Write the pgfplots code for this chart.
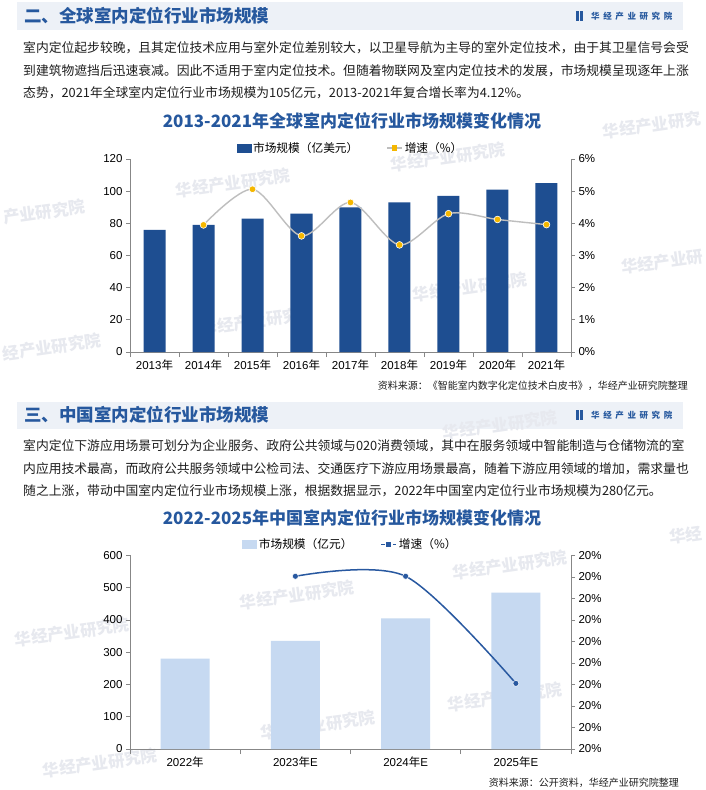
\documentclass[border=0pt]{standalone}
\usepackage{fontspec}
\setmainfont{Noto Sans CJK SC}
\newfontfamily\cjk{Noto Sans CJK SC}
\newfontfamily\arial{Liberation Sans}
\usepackage{pgfplots}
\pgfplotsset{compat=1.18}
\definecolor{hdrblue}{RGB}{38,88,158}
\definecolor{barblue}{RGB}{30,78,145}
\definecolor{lightbar}{RGB}{198,217,241}
\definecolor{band}{RGB}{237,241,247}
\definecolor{gold}{RGB}{245,183,0}
\definecolor{linegray}{RGB}{190,190,190}
\definecolor{lineblue}{RGB}{40,88,160}
\definecolor{axgray}{RGB}{135,135,135}
\definecolor{txt}{RGB}{30,30,30}
\definecolor{wm}{RGB}{231,233,239}
\newcommand\fs[1]{\fontsize{#1}{#1}\selectfont}
\newcommand\N{{\cjk 年}}
\newcommand\jline[2]{\hbox to #1{\XeTeXlinebreaklocale "zh"\XeTeXlinebreakskip=0pt plus 1pt minus 0.6pt\relax #2}}
\pgfplotsset{
  base/.style={
    scale only axis, width=441pt,
    axis line style={draw=axgray, line width=0.8pt},
    every tick/.style={draw=axgray, line width=0.8pt},
    tick align=outside, major tick length=4pt, minor tick length=5pt,
    tick label style={font=\arial\fs{11.5}, text=black},
    /pgf/number format/assume math mode=true,
  },
  leg/.style={
    legend columns=2,
    legend style={at={(0.5,1.0)}, anchor=south, yshift=1pt, draw=none, fill=none,
      font=\cjk\fs{11.7}, text=black,
      /tikz/every even column/.append style={column sep=26pt}},
  },
}
\begin{document}
\begin{tikzpicture}
\path[use as bounding box] (0pt,0pt) rectangle (705pt,-790pt);
\fill[white] (0pt,0pt) rectangle (705pt,-790pt);
\begin{scope}[x=1pt,y=-1pt]
  \fill[band] (17,2) rectangle (683,30);
  \fill[band] (17,402) rectangle (683,429);
  % faint watermarks
  \begin{scope}[every node/.style={text=wm, font=\bfseries\fs{16.5}, rotate=8, inner sep=0}]
    \node at (233,183) {华经产业研究院};
    \node at (44,212) {产业研究院};
    \node at (250,322) {华经产业研究};
    \node at (52,347) {经产业研究院};
    \node at (448,157) {华经产业研究院};
    \node at (652,125) {华经产业研究};
    \node at (470,287) {华经产业研究院};
    \node at (662,262) {华经产业研};
    \node at (500,425) {华经产业研究院};
    \node at (297,595) {华经产业研究院};
    \node at (72,632) {华经产业研究院};
    \node at (318,725) {华经产业研究院};
    \node at (100,763) {华经产业研究院};
    \node at (510,565) {华经产业研究院};
    \node at (686,535) {华经};
    \node at (505,697) {华经产业研究院};
  \end{scope}
  % ---------- header 1
  \node[anchor=west, inner sep=0, text=hdrblue, font=\bfseries\fs{17.5}] at (24,16) {二、全球室内定位行业市场规模};
  \fill[hdrblue] (576,11) rectangle (578.6,21);
  \fill[hdrblue] (580,11) rectangle (582.6,21);
  \node[anchor=west, inner sep=0, text=hdrblue, font=\bfseries\fs{8.5}] at (591,16) {华\hspace{3.6pt}经\hspace{3.6pt}产\hspace{3.6pt}业\hspace{3.6pt}研\hspace{3.6pt}究\hspace{3.6pt}院};
  % paragraph 1
  \begin{scope}[every node/.style={anchor=west, inner sep=0, text=txt, font=\fs{12.8}}]
  \node at (23,48) {\jline{663pt}{室内定位起步较晚，且其定位技术应用与室外定位差别较大，以卫星导航为主导的室外定位技术，由于其卫星信号会受}};
  \node at (23,71) {\jline{662pt}{到建筑物遮挡后迅速衰减。因此不适用于室内定位技术。但随着物联网及室内定位技术的发展，市场规模呈现逐年上涨}};
  \node at (23,93) {\jline{485pt}{态势，2021年全球室内定位行业市场规模为105亿元，2013-2021年复合增长率为4.12\%。}};
  \end{scope}
  \node[text=hdrblue, font=\bfseries\fs{17}, inner sep=0] at (352,121) {2013-2021年全球室内定位行业市场规模变化情况};
  \node[anchor=east, inner sep=0, text=txt, font=\fs{10}] at (688,386) {资料来源：《智能室内数字化定位技术白皮书》，华经产业研究院整理};
  % ---------- header 2
  \node[anchor=west, inner sep=0, text=hdrblue, font=\bfseries\fs{17.5}] at (24,415) {三、中国室内定位行业市场规模};
  \fill[hdrblue] (576,410) rectangle (578.6,420);
  \fill[hdrblue] (580,410) rectangle (582.6,420);
  \node[anchor=west, inner sep=0, text=hdrblue, font=\bfseries\fs{8.5}] at (591,415) {华\hspace{3.6pt}经\hspace{3.6pt}产\hspace{3.6pt}业\hspace{3.6pt}研\hspace{3.6pt}究\hspace{3.6pt}院};
  \begin{scope}[every node/.style={anchor=west, inner sep=0, text=txt, font=\fs{12.8}}]
  \node at (23,446) {\jline{663pt}{室内定位下游应用场景可划分为企业服务、政府公共领域与020消费领域，其中在服务领域中智能制造与仓储物流的室}};
  \node at (23,469) {\jline{664pt}{内应用技术最高，而政府公共服务领域中公检司法、交通医疗下游应用场景最高，随着下游应用领域的增加，需求量也}};
  \node at (23,491) {\jline{618pt}{随之上涨，带动中国室内定位行业市场规模上涨，根据数据显示，2022年中国室内定位行业市场规模为280亿元。}};
  \end{scope}
  \node[text=hdrblue, font=\bfseries\fs{17}, inner sep=0] at (352,518) {2022-2025年中国室内定位行业市场规模变化情况};
  \node[anchor=east, inner sep=0, text=txt, font=\fs{10}] at (679,783) {资料来源：公开资料，华经产业研究院整理};
\end{scope}

% ================= chart 1
\begin{axis}[base, at={(130pt,-352pt)}, anchor=south west, height=193pt,
  xmin=-0.5, xmax=8.5, ymin=0, ymax=120,
  axis y line*=left, axis x line*=bottom,
  xtick={0,...,8},
  xticklabels={2013\N,2014\N,2015\N,2016\N,2017\N,2018\N,2019\N,2020\N,2021\N},
  major x tick style={draw=none},
  minor xtick={-0.5,0.5,...,8.5},
  ytick={0,20,...,120},
  ybar, bar width=22pt]
\addplot[fill=barblue, draw=none] coordinates {(0,76) (1,79) (2,83) (3,86) (4,90) (5,93) (6,97) (7,101) (8,105)};
\end{axis}
\begin{axis}[base, leg, at={(130pt,-352pt)}, anchor=south west, height=193pt,
  xmin=-0.5, xmax=8.5, ymin=0, ymax=6,
  axis y line*=right, axis x line=none,
  ytick={0,...,6}, yticklabels={0\%,1\%,2\%,3\%,4\%,5\%,6\%}]
\addlegendimage{legend image code/.code={\fill[barblue] (0pt,-4pt) rectangle (14pt,4pt);}}
\addlegendentry{市场规模（亿美元）}
\addplot[smooth, color=linegray, line width=1.4pt, mark=*, mark size=3.4pt,
  mark options={fill=gold, draw=white, line width=0.6pt},
  legend image code/.code={\draw[linegray, line width=1.4pt] (0pt,0pt) -- (15pt,0pt); \fill[gold] (5.5pt,-2pt) rectangle (9.5pt,2pt);}]
  coordinates {(1,3.95) (2,5.06) (3,3.61) (4,4.65) (5,3.33) (6,4.30) (7,4.12) (8,3.96)};
\addlegendentry{增速（\%）}
\end{axis}

% ================= chart 2
\begin{axis}[base, at={(130pt,-749pt)}, anchor=south west, height=193.6pt,
  xmin=-0.5, xmax=3.5, ymin=0, ymax=600,
  axis y line*=left, axis x line*=bottom,
  xtick={0,...,3},
  xticklabels={2022\N,2023\N E,2024\N E,2025\N E},
  major x tick style={draw=none},
  minor xtick={-0.5,0.5,...,3.5},
  ytick={0,100,...,600},
  ybar, bar width=49pt]
\addplot[fill=lightbar, draw=none] coordinates {(0,280) (1,335) (2,405) (3,485)};
\end{axis}
\begin{axis}[base, leg, at={(130pt,-749pt)}, anchor=south west, height=193.6pt,
  xmin=-0.5, xmax=3.5, ymin=0, ymax=9,
  axis y line*=right, axis x line=none,
  ytick={0,...,9}, yticklabels={20\%,20\%,20\%,20\%,20\%,20\%,20\%,20\%,20\%,20\%}]
\addlegendimage{legend image code/.code={\fill[lightbar] (0pt,-4pt) rectangle (14pt,4pt);}}
\addlegendentry{市场规模（亿元）}
\addplot[smooth, color=lineblue, line width=1.5pt, mark=*, mark size=3pt,
  mark options={fill=lineblue, draw=white, line width=0.5pt},
  legend image code/.code={\draw[lineblue, line width=1.5pt, dash pattern=on 4pt off 2pt] (0pt,0pt) -- (15pt,0pt); \fill[lineblue] (5.5pt,-2pt) rectangle (9.5pt,2pt);}]
  coordinates {(1,8.03) (2,8.03) (3,3.05)};
\addlegendentry{增速（\%）}
\end{axis}
\end{tikzpicture}
\end{document}
